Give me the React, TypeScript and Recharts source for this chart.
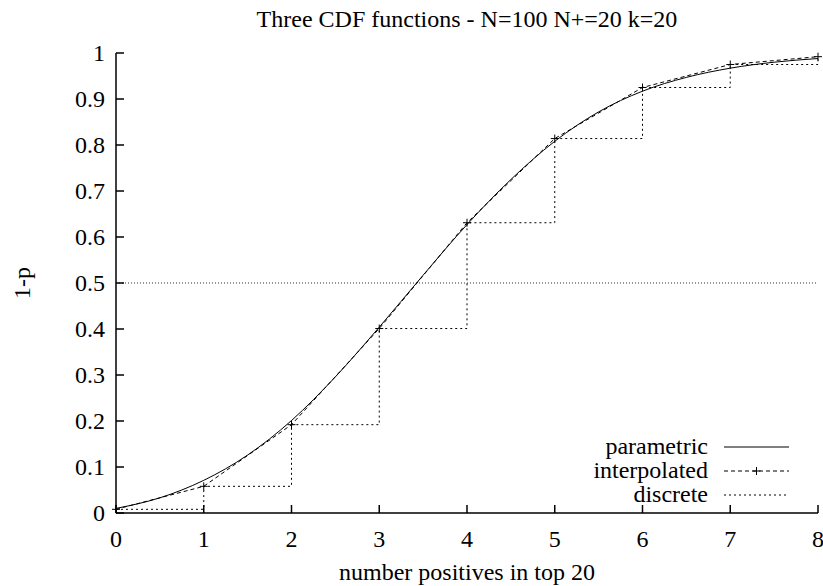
import React from 'react';
import { LineChart, Line, XAxis, YAxis, ReferenceLine, Legend, Label } from 'recharts';

const xTicks = [0, 1, 2, 3, 4, 5, 6, 7, 8];
const yTicks = [0, 0.1, 0.2, 0.3, 0.4, 0.5, 0.6, 0.7, 0.8, 0.9, 1];
const yTickLabels = ['0', '0.1', '0.2', '0.3', '0.4', '0.5', '0.6', '0.7', '0.8', '0.9', '1'];

const discreteX = [0, 1, 2, 3, 4, 5, 6, 7, 8];
const discreteY = [0.008, 0.058, 0.192, 0.401, 0.631, 0.814, 0.925, 0.975, 0.992];

const parametricX = [0, 0.5, 1, 1.5, 2, 2.5, 3, 3.5, 4, 4.5, 5, 5.5, 6, 6.5, 7, 7.5, 8];
const parametricY = [0.010, 0.033, 0.071, 0.126, 0.201, 0.296, 0.404, 0.517, 0.627, 0.725, 0.808, 0.872, 0.917, 0.947, 0.967, 0.980, 0.988];

const seriesNames = ['parametric', 'interpolated', 'discrete'];
const halfLevel = 0.5;
const titleText = 'Three CDF functions - N=100 N+=20 k=20';
const xLabelText = 'number positives in top 20';
const yLabelText = '1-p';

const parametricData = parametricX.map((x, i) => ({ x, y: parametricY[i] }));
const stepData = discreteX.map((x, i) => ({ x, y: discreteY[i] }));

const FONT = "'Liberation Serif', 'Times New Roman', Times, serif";
const FS = 24;
const TICK = 8;
const INTERP_DASH = '4 3';
const DISCRETE_DASH = '2 3';

const fmtY = (v: number) => {
  const idx = yTicks.findIndex((t) => Math.abs(t - v) < 1e-9);
  return idx >= 0 ? yTickLabels[idx] : String(v);
};

const BottomTick = (props: any) => {
  const { x, y, payload } = props;
  return (
    <g>
      <line x1={x} y1={y} x2={x} y2={y - TICK} stroke="#000" strokeWidth={1.5} />
      <text x={x} y={y + 34} textAnchor="middle" fontFamily={FONT} fontSize={FS} fill="#000">
        {payload.value}
      </text>
    </g>
  );
};

const TopTick = (props: any) => {
  const { x, y } = props;
  return <line x1={x} y1={y} x2={x} y2={y + TICK} stroke="#000" strokeWidth={1.5} />;
};

const LeftTick = (props: any) => {
  const { x, y, payload } = props;
  return (
    <g>
      <line x1={x} y1={y} x2={x + TICK} y2={y} stroke="#000" strokeWidth={1.5} />
      <text x={x - 11} y={y + 8} textAnchor="end" fontFamily={FONT} fontSize={FS} fill="#000">
        {fmtY(payload.value)}
      </text>
    </g>
  );
};

const RightTick = (props: any) => {
  const { x, y } = props;
  return <line x1={x} y1={y} x2={x - TICK} y2={y} stroke="#000" strokeWidth={1.5} />;
};

const CrossDot = (props: any) => {
  const { cx, cy, index } = props;
  if (cx == null || cy == null) return <g key={index} />;
  return (
    <g key={index}>
      <line x1={cx - 4} y1={cy} x2={cx + 4} y2={cy} stroke="#000" strokeWidth={1} />
      <line x1={cx} y1={cy - 4} x2={cx} y2={cy + 4} stroke="#000" strokeWidth={1} />
    </g>
  );
};

const LegendContent = () => {
  const textX = 148;
  const x1 = 164;
  const x2 = 229;
  const rows = [17, 41, 65];
  return (
    <svg width={250} height={80} style={{ overflow: 'visible' }}>
      {seriesNames.map((name, i) => (
        <g key={name}>
          <text x={textX} y={rows[i] + 7} textAnchor="end" fontFamily={FONT} fontSize={FS} fill="#000">
            {name}
          </text>
          <line
            x1={x1}
            y1={rows[i]}
            x2={x2}
            y2={rows[i]}
            stroke="#000"
            strokeWidth={1}
            strokeDasharray={i === 0 ? undefined : i === 1 ? INTERP_DASH : DISCRETE_DASH}
          />
          {i === 1 && <CrossDot cx={(x1 + x2) / 2} cy={rows[i]} index={0} />}
        </g>
      ))}
    </svg>
  );
};

export default function App() {
  return (
    <div style={{ position: 'absolute', left: 0, top: 0, background: '#fff' }}>
      <LineChart width={823} height={586} margin={{ top: 53, right: 5, bottom: 0, left: 0 }}>
        <XAxis
          xAxisId="b"
          dataKey="x"
          type="number"
          domain={[0, 8]}
          ticks={xTicks}
          height={73}
          tickSize={0}
          tickMargin={0}
          tickLine={false}
          tick={<BottomTick />}
          axisLine={{ stroke: '#000', strokeWidth: 1.5 }}
        >
          <Label
            content={(p: any) => {
              const vb = p.viewBox || { x: 116, width: 702 };
              return (
                <text x={vb.x + vb.width / 2} y={580} textAnchor="middle" fontFamily={FONT} fontSize={FS} fill="#000">
                  {xLabelText}
                </text>
              );
            }}
          />
        </XAxis>
        <XAxis
          xAxisId="t"
          orientation="top"
          dataKey="x"
          type="number"
          domain={[0, 8]}
          ticks={xTicks}
          height={0}
          tickSize={0}
          tickMargin={0}
          tickLine={false}
          tick={<TopTick />}
          axisLine={{ stroke: '#000', strokeWidth: 1.5 }}
        />
        <YAxis
          yAxisId="l"
          type="number"
          domain={[0, 1]}
          ticks={yTicks}
          width={116}
          tickSize={0}
          tickMargin={0}
          tickLine={false}
          tick={<LeftTick />}
          axisLine={{ stroke: '#000', strokeWidth: 1.5 }}
        >
          <Label
            content={() => (
              <g>
                <text
                  x={0}
                  y={0}
                  transform="translate(30,283) rotate(-90)"
                  textAnchor="middle"
                  fontFamily={FONT}
                  fontSize={FS}
                  fill="#000"
                >
                  {yLabelText}
                </text>
                <text x={467} y={27} textAnchor="middle" fontFamily={FONT} fontSize={FS} fill="#000">
                  {titleText}
                </text>
              </g>
            )}
          />
        </YAxis>
        <YAxis
          yAxisId="r"
          orientation="right"
          type="number"
          domain={[0, 1]}
          ticks={yTicks}
          width={0}
          tickSize={0}
          tickMargin={0}
          tickLine={false}
          tick={<RightTick />}
          axisLine={{ stroke: '#000', strokeWidth: 1.5 }}
        />
        <ReferenceLine
          xAxisId="b"
          yAxisId="l"
          y={halfLevel}
          stroke="#333"
          strokeWidth={1}
          strokeDasharray="1 2"
        />
        <Line
          xAxisId="b"
          yAxisId="l"
          data={parametricData}
          dataKey="y"
          name={seriesNames[0]}
          type="monotone"
          stroke="#000"
          strokeWidth={1}
          dot={false}
          activeDot={false}
          isAnimationActive={false}
        />
        <Line
          xAxisId="b"
          yAxisId="l"
          data={stepData}
          dataKey="y"
          name={seriesNames[1]}
          type="linear"
          stroke="#000"
          strokeWidth={1}
          strokeDasharray={INTERP_DASH}
          dot={<CrossDot />}
          activeDot={false}
          isAnimationActive={false}
        />
        <Line
          xAxisId="b"
          yAxisId="l"
          data={stepData}
          dataKey="y"
          name={seriesNames[2]}
          type="stepAfter"
          stroke="#000"
          strokeWidth={1}
          strokeDasharray={DISCRETE_DASH}
          dot={false}
          activeDot={false}
          isAnimationActive={false}
        />
        <Legend
          layout="horizontal"
          verticalAlign="middle"
          align="center"
          wrapperStyle={{ left: 560, top: 430, width: 250, height: 80 }}
          content={LegendContent}
        />
      </LineChart>
    </div>
  );
}
